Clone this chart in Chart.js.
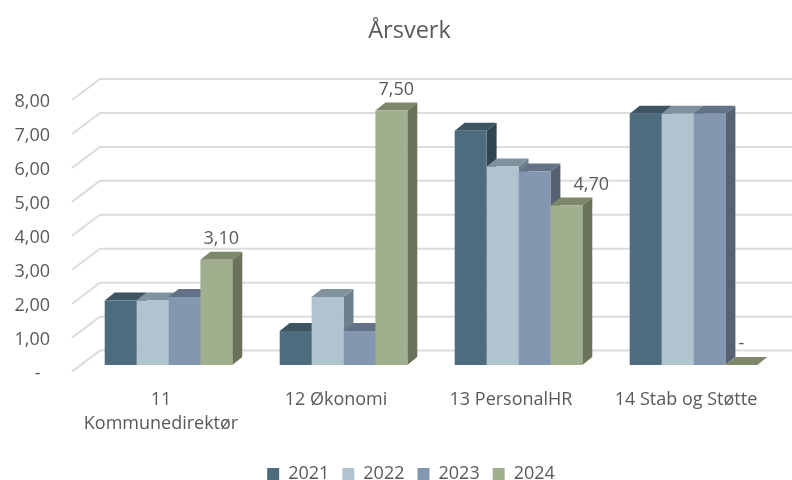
<!DOCTYPE html>
<html>
<head>
<meta charset="utf-8">
<style>
  html, body { margin: 0; padding: 0; background: #fff; }
  canvas { display: block; }
</style>
<script src="https://cdn.jsdelivr.net/npm/chart.js@4"></script>
</head>
<body>
<canvas id="chart" width="792" height="480"></canvas>
<script>
const categories = [['11', 'Kommunedirektør'], '12 Økonomi', '13 PersonalHR', '14 Stab og Støtte'];
const years = ['2021', '2022', '2023', '2024'];
const values2021 = [1.9, 1.0, 6.9, 7.4];
const values2022 = [1.9, 2.0, 5.85, 7.4];
const values2023 = [2.0, 1.0, 5.7, 7.4];
const values2024 = [3.1, 7.5, 4.7, 0];

const frontColors = ['#4d6d7f', '#b0c3cf', '#8497b0', '#a2af8e'];
const topColors = ['#3d5560', '#7f929d', '#647287', '#7d8868'];
const sideColors = ['#2f4650', '#6d808b', '#566272', '#69735a'];
const textColor = '#595959';
const gridColor = '#dcdcdc';
const fontFamily = '"Open Sans"';

// number format from the sheet: comma decimals, dash for zero
const fmt = v => (v === 0 ? '-' : v.toFixed(2).replace('.', ','));

// wall depth (gridlines) and bar depth, in px
const wallX = 28, wallY = 21;
const barOffsetX = 9, barOffsetY = 6.6;
const barDepthX = 10, barDepthY = 8;
// the 4,70 label was dragged aside in the original
const labelNudgeX = [0, 0, 20, 0];

const fake3d = {
  id: 'fake3d',
  afterLayout(chart) {
    // y labels hang out left of the axis box, scale clips them to its box otherwise
    chart.scales.y.left = 0;
    chart.legend.left += 3;
    chart.legend.top -= 2;
  },
  beforeDatasetsDraw(chart) {
    const { ctx, scales } = chart;
    const y = scales.y;

    // gridlines: short diagonal on the side wall, long line on the back wall
    ctx.save();
    ctx.strokeStyle = gridColor;
    ctx.lineWidth = 2;
    y.ticks.forEach(t => {
      const py = y.getPixelForValue(t.value);
      ctx.beginPath();
      ctx.moveTo(scales.x.left, py);
      ctx.lineTo(scales.x.left + wallX, py - wallY);
      ctx.lineTo(chart.width, py - wallY);
      ctx.stroke();
    });
    ctx.restore();

    // everything after this sits in front of the wall
    ctx.save();
    ctx.translate(barOffsetX, -barOffsetY);

    // sides and tops first, left to right, the front faces then cover them
    chart.data.datasets.forEach((ds, i) => {
      chart.getDatasetMeta(i).data.forEach(bar => {
        const left = bar.x - bar.width / 2;
        const right = bar.x + bar.width / 2;

        ctx.fillStyle = sideColors[i];
        ctx.beginPath();
        ctx.moveTo(right, bar.y);
        ctx.lineTo(right + barDepthX, bar.y - barDepthY);
        ctx.lineTo(right + barDepthX, bar.base - barDepthY);
        ctx.lineTo(right, bar.base);
        ctx.closePath();
        ctx.fill();

        ctx.fillStyle = topColors[i];
        ctx.beginPath();
        ctx.moveTo(left, bar.y);
        ctx.lineTo(left + barDepthX, bar.y - barDepthY);
        ctx.lineTo(right + barDepthX, bar.y - barDepthY);
        ctx.lineTo(right, bar.y);
        ctx.closePath();
        ctx.fill();
      });
    });
  },
  afterDatasetsDraw(chart) {
    const { ctx } = chart;
    ctx.restore();

    // only the 2024 series has data labels, drawn last so they stay on top
    const idx = years.length - 1;
    ctx.save();
    ctx.font = '18px ' + fontFamily;
    ctx.fillStyle = textColor;
    ctx.textAlign = 'center';
    ctx.textBaseline = 'middle';
    chart.getDatasetMeta(idx).data.forEach((bar, i) => {
      const v = values2024[i];
      const shift = v === 0 ? 0 : barDepthX / 2;
      ctx.fillText(fmt(v), bar.x + barOffsetX + shift + labelNudgeX[i], bar.y - barOffsetY - barDepthY - 13);
    });
    ctx.restore();
  }
};

const seriesValues = [values2021, values2022, values2023, values2024];

new Chart(document.getElementById('chart'), {
  type: 'bar',
  data: {
    labels: categories,
    datasets: years.map((year, i) => ({
      label: year,
      data: seriesValues[i],
      backgroundColor: frontColors[i],
      borderWidth: 0,
      clip: false,
      categoryPercentage: 0.729,
      barPercentage: 1
    }))
  },
  options: {
    responsive: false,
    animation: false,
    layout: { padding: { left: 47, right: 20, top: 0, bottom: -15 } },
    plugins: {
      title: {
        display: true,
        text: 'Årsverk',
        color: textColor,
        font: { family: fontFamily, size: 23.5, weight: 'normal', lineHeight: 1.2 },
        padding: { top: 17, bottom: 54.8 }
      },
      legend: {
        position: 'bottom',
        labels: {
          color: textColor,
          boxWidth: 12,
          boxHeight: 12,
          padding: 13,
          font: { family: fontFamily, size: 18 }
        }
      },
      tooltip: { enabled: false }
    },
    scales: {
      x: {
        grid: { display: false },
        border: { display: false },
        afterFit(scale) { scale.height = 82.4; },
        ticks: {
          color: textColor,
          autoSkip: false,
          maxRotation: 0,
          padding: 8,
          labelOffset: 1.5,
          font: { family: fontFamily, size: 18, lineHeight: 1.33 }
        }
      },
      y: {
        min: 0,
        max: 8,
        grid: { display: false, drawTicks: false },
        border: { display: false },
        afterFit(scale) { scale.width = 25; },
        ticks: {
          stepSize: 1,
          color: textColor,
          padding: 22,
          labelOffset: 2,
          font: { family: fontFamily, size: 18 },
          callback: v => (v === 0 ? '-  ' : fmt(v))
        }
      }
    }
  },
  plugins: [fake3d]
});
</script>
</body>
</html>
